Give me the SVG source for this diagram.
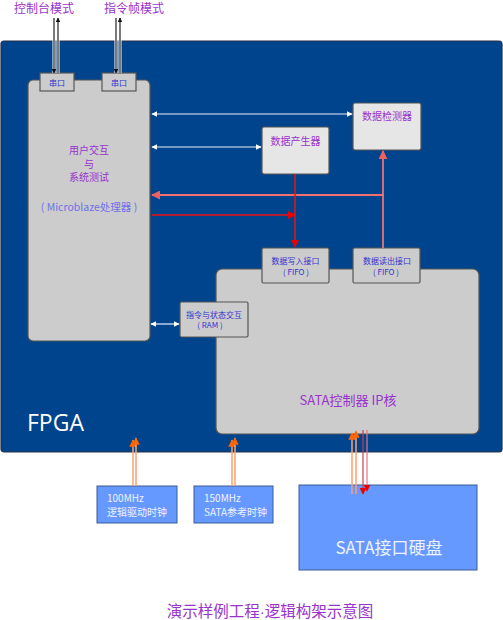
<svg xmlns="http://www.w3.org/2000/svg" width="503" height="620" viewBox="0 0 503 620">
<defs>
<style>
text{font-family:"Noto Sans CJK SC","Noto Sans",sans-serif;}
.box{fill:#cccccc;stroke:#555;stroke-width:1.2;}
.lbox{fill:#e6e6e6;stroke:#555;stroke-width:1.2;}
.clk{fill:#6699ff;stroke:#3a5a9a;stroke-width:1;}
.pur{fill:#9933cc;}
.blu{fill:#3333cc;}
.wt{fill:#ffffff;}
.wl{stroke:#e8eef8;stroke-width:1.2;fill:none;}
.pk{stroke:#f07070;stroke-width:1.8;fill:none;}
.rd{stroke:#ee1111;stroke-width:1.5;fill:none;}
.or{stroke:#ffa070;stroke-width:1.5;fill:none;}
.dr{stroke:#c04050;stroke-width:1.2;fill:none;}
.bl{stroke:#222;stroke-width:1.2;fill:none;}
.bk{stroke:#fff;stroke-width:3;fill:none;}
</style>
<marker id="aw" viewBox="0 0 10 10" refX="9" refY="5" markerWidth="5" markerHeight="5" orient="auto-start-reverse"><path d="M0,0L10,5L0,10z" fill="#ffffff"/></marker>
<marker id="apk" viewBox="0 0 10 10" refX="9" refY="5" markerWidth="5" markerHeight="5" orient="auto"><path d="M0,0L10,5L0,10z" fill="#f06060"/></marker>
<marker id="ard" viewBox="0 0 10 10" refX="9" refY="5" markerWidth="5.5" markerHeight="5.5" orient="auto"><path d="M0,0L10,5L0,10z" fill="#ee0000"/></marker>
<marker id="aor" viewBox="0 0 10 10" refX="9" refY="5" markerWidth="5" markerHeight="5" orient="auto"><path d="M0,0L10,5L0,10z" fill="#ff6600"/></marker>
<marker id="abk" viewBox="0 0 10 10" refX="9" refY="5" markerWidth="4" markerHeight="4" orient="auto"><path d="M0,0L10,5L0,10z" fill="#111"/></marker>
</defs>

<g id="fpga">
<rect x="1" y="41" width="501" height="411" rx="3" fill="#00448e" stroke="#2a2f45" stroke-width="1.2"/>
<text x="27" y="431" font-size="23" class="wt" style="font-family:'Open Sans','Noto Sans',sans-serif">FPGA</text>
</g>

<g id="titles">
<text x="44" y="13" font-size="12" class="pur" text-anchor="middle">控制台模式</text>
<text x="134" y="13" font-size="12" class="pur" text-anchor="middle">指令帧模式</text>
</g>

<g id="user">
<rect x="28" y="80" width="122" height="261" rx="5" class="box"/>
<text x="89" y="154" font-size="10" class="pur" text-anchor="middle">用户交互</text>
<text x="89" y="167.5" font-size="10" class="pur" text-anchor="middle">与</text>
<text x="89" y="181" font-size="10" class="pur" text-anchor="middle">系统测试</text>
<text x="89" y="211" font-size="10.5" fill="#7070e8" text-anchor="middle">( Microblaze处理器 )</text>
</g>

<g id="uart1">
<rect x="40" y="73" width="34" height="18" class="box"/>
<text x="57" y="85.5" font-size="8" class="blu" text-anchor="middle">串口</text>
</g>
<g id="uart2">
<rect x="102" y="73" width="34" height="18" class="box"/>
<text x="119" y="85.5" font-size="8" class="blu" text-anchor="middle">串口</text>
</g>

<g id="generator">
<rect x="262" y="127" width="67" height="47" rx="2" class="lbox"/>
<text x="295.5" y="145" font-size="10" class="pur" text-anchor="middle">数据产生器</text>
</g>
<g id="detector">
<rect x="353" y="103" width="68" height="47" rx="2" class="lbox"/>
<text x="387" y="120" font-size="10" class="pur" text-anchor="middle">数据检测器</text>
</g>

<g id="sata_ip">
<rect x="216" y="269" width="263" height="165" rx="6" class="box"/>
<text x="348" y="405" font-size="13" class="pur" text-anchor="middle">SATA控制器 IP核</text>
</g>

<g id="write_if">
<rect x="262" y="248" width="67" height="35" rx="1.5" class="box"/>
<text x="295.5" y="264" font-size="8" class="blu" text-anchor="middle">数据写入接口</text>
<text x="296" y="275" font-size="8" class="blu" text-anchor="middle">( FIFO )</text>
</g>
<g id="read_if">
<rect x="353" y="248" width="67" height="35" rx="1.5" class="box"/>
<text x="387" y="264" font-size="8" class="blu" text-anchor="middle">数据读出接口</text>
<text x="386" y="275" font-size="8" class="blu" text-anchor="middle">( FIFO )</text>
</g>
<g id="ram">
<rect x="180" y="302" width="68" height="35" rx="1.5" class="box"/>
<text x="214" y="318" font-size="8" class="blu" text-anchor="middle">指令与状态交互</text>
<text x="210" y="328" font-size="8" class="blu" text-anchor="middle">( RAM )</text>
</g>

<g id="clk100">
<rect x="97" y="486" width="80" height="37" class="clk"/>
<text x="107" y="502" font-size="10" fill="#eef2ff">100MHz</text>
<text x="107" y="516" font-size="10" fill="#eef2ff">逻辑驱动时钟</text>
</g>
<g id="clk150">
<rect x="194" y="486" width="79" height="37" class="clk"/>
<text x="204" y="502" font-size="10" fill="#eef2ff">150MHz</text>
<text x="204" y="516" font-size="10" fill="#eef2ff">SATA参考时钟</text>
</g>
<g id="disk">
<rect x="299" y="485" width="178" height="85" class="clk"/>
<text x="389" y="554" font-size="17" fill="#eef2ff" text-anchor="middle">SATA接口硬盘</text>
</g>

<g id="caption">
<text x="270" y="617" font-size="15.5" class="pur" text-anchor="middle">演示样例工程<tspan style="font-family:'Liberation Sans',sans-serif">·</tspan>逻辑构架示意图</text>
</g>

<g id="connectors">
<line x1="54" y1="18" x2="54" y2="73" class="bk"/>
<line x1="58" y1="18" x2="58" y2="73" class="bk"/>
<line x1="54" y1="18" x2="54" y2="73" class="bl" marker-end="url(#abk)"/>
<line x1="58" y1="73" x2="58" y2="18" class="bl" marker-end="url(#abk)"/>
<line x1="116" y1="18" x2="116" y2="73" class="bk"/>
<line x1="120" y1="18" x2="120" y2="73" class="bk"/>
<line x1="116" y1="18" x2="116" y2="73" class="bl" marker-end="url(#abk)"/>
<line x1="120" y1="73" x2="120" y2="18" class="bl" marker-end="url(#abk)"/>
<line x1="152" y1="114" x2="352" y2="114" class="wl" marker-start="url(#aw)" marker-end="url(#aw)"/>
<line x1="152" y1="147" x2="261" y2="147" class="wl" marker-start="url(#aw)" marker-end="url(#aw)"/>
<line x1="151" y1="324" x2="179" y2="324" class="wl" marker-start="url(#aw)" marker-end="url(#aw)"/>
<polyline points="383,248 383,195 152,195" class="pk" marker-end="url(#apk)"/>
<line x1="383" y1="196" x2="383" y2="151" class="pk" marker-end="url(#apk)"/>
<line x1="152" y1="215" x2="295" y2="215" class="rd" marker-end="url(#ard)"/>
<line x1="295" y1="174" x2="295" y2="247" class="rd" marker-end="url(#ard)"/>
<line x1="133" y1="486" x2="133" y2="440" class="or" marker-end="url(#aor)"/>
<line x1="136" y1="486" x2="136" y2="438" class="or" marker-end="url(#aor)"/>
<line x1="232" y1="486" x2="232" y2="440" class="or" marker-end="url(#aor)"/>
<line x1="235" y1="486" x2="235" y2="438" class="or" marker-end="url(#aor)"/>
<line x1="352" y1="494" x2="352" y2="433" class="or" stroke="#e89070" marker-end="url(#aor)"/>
<line x1="356" y1="494" x2="356" y2="431" class="or" marker-end="url(#aor)"/>
<line x1="363" y1="430" x2="363" y2="494" class="dr" marker-end="url(#ard)"/>
<line x1="367" y1="430" x2="367" y2="491" stroke="#f07080" stroke-width="1.2" marker-end="url(#ard)"/>
</g>
</svg>
